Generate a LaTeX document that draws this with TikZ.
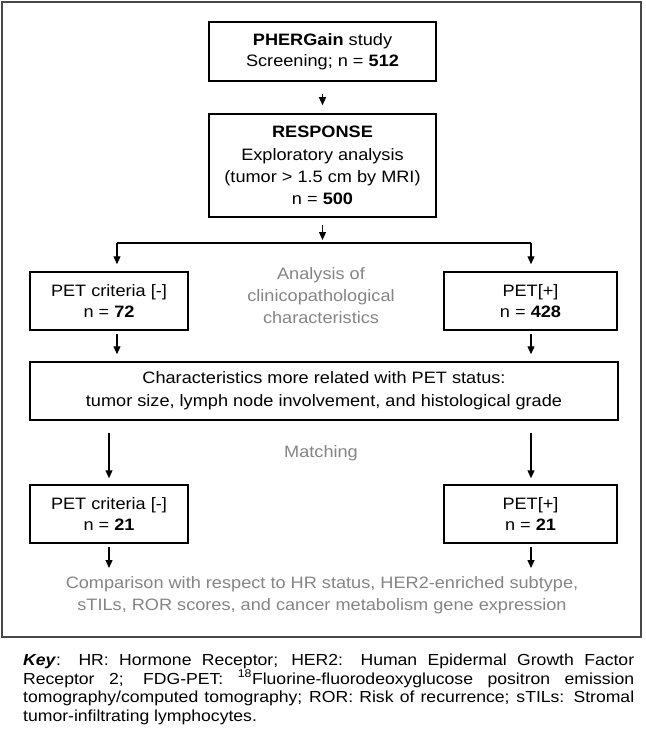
\documentclass[tikz,border=0pt]{standalone}
\usepackage{fontspec}
\setmainfont[FakeStretch=1.1]{Liberation Sans}
\usetikzlibrary{arrows.meta}
\begin{document}
\begin{tikzpicture}[x=1pt,y=-1pt,
  box/.style={draw=black, line width=1.5pt, align=center, inner sep=0pt, anchor=center,
    font=\fontsize{16.5}{21}\selectfont},
  gtext/.style={text=black!48, align=center, inner sep=0pt, anchor=center,
    font=\fontsize{16.5}{22}\selectfont},
  arr/.style={line width=1.2pt, -{Triangle[length=8pt,width=7pt]}},
  plain/.style={line width=1.2pt}
]
\useasboundingbox (0,0) rectangle (645,735);
\fill[white] (0,0) rectangle (645,735);
\draw[line width=2pt, draw=black!72] (2,2) rectangle (641,637);

% boxes
\node[box, minimum width=227pt, minimum height=59pt] (b1) at (322.5,51.5)
  {\textbf{PHERGain} study\\Screening; n = \textbf{512}};
\node[box, minimum width=227pt, minimum height=103pt, font=\fontsize{16.5}{22.3}\selectfont] (b2) at (322.5,165.5)
  {\textbf{RESPONSE}\\Exploratory analysis\\(tumor > 1.5 cm by MRI)\\n = \textbf{500}};
\node[box, minimum width=158pt, minimum height=58pt] (l1) at (109,301)
  {PET criteria [-]\\n = \textbf{72}};
\node[box, minimum width=173pt, minimum height=58pt] (r1) at (530.5,301)
  {PET[+]\\n = \textbf{428}};
\node[box, minimum width=588pt, minimum height=58pt, font=\fontsize{16.5}{23}\selectfont] (ch) at (324,391)
  {Characteristics more related with PET status:\\tumor size, lymph node involvement, and histological grade};
\node[box, minimum width=158pt, minimum height=58pt] (l2) at (109,514)
  {PET criteria [-]\\n = \textbf{21}};
\node[box, minimum width=173pt, minimum height=58pt] (r2) at (530.5,514)
  {PET[+]\\n = \textbf{21}};

% gray labels
\node[gtext] (ana) at (321,296) {Analysis of\\clinicopathological\\characteristics};
\node[gtext] (mat) at (321,453) {Matching};
\node[gtext] (cmp) at (322,595) {Comparison with respect to HR status, HER2-enriched subtype,\\sTILs, ROR scores, and cancer metabolism gene expression};

% coordinates
\coordinate (split) at (322.5,243);
\coordinate (sl) at (117,243);
\coordinate (sr) at (531,243);
\coordinate (el) at (109,568);
\coordinate (er) at (531,568);

% connectors
\draw[arr, shorten <=12pt, shorten >=8pt] (b1) -- (b2);
\draw[arr, shorten <=7pt, shorten >=3pt] (b2.south) -- (split);
\draw[plain] (sl) -- (sr);
\draw[arr, shorten >=7pt] (sl) -- (sl |- l1.north);
\draw[arr, shorten >=7pt] (sr) -- (sr |- r1.north);
\draw[arr, shorten <=3pt, shorten >=7pt] (sl |- l1.south) -- (sl |- ch.north);
\draw[arr, shorten <=3pt, shorten >=7pt] (sr |- r1.south) -- (sr |- ch.north);
\draw[arr, shorten <=12pt, shorten >=6pt] (l2.center |- ch.south) -- (l2.north);
\draw[arr, shorten <=12pt, shorten >=6pt] (er |- ch.south) -- (er |- r2.north);
\draw[arr, shorten <=3pt] (l2.south) -- (el);
\draw[arr, shorten <=3pt] (er |- r2.south) -- (er);

% key
\node[anchor=north west, inner sep=0pt, font=\fontsize{16}{18.4}\selectfont] (key) at (23,654)
  {\parbox{611pt}{\textbf{\textit{Key}}: HR: Hormone Receptor; HER2: Human Epidermal Growth Factor\linebreak
  Receptor 2; FDG-PET: \textsuperscript{18}Fluorine-fluorodeoxyglucose positron emission\linebreak
  tomography/computed tomography; ROR: Risk of recurrence; sTILs: Stromal\linebreak
  tumor-infiltrating lymphocytes.}};
\end{tikzpicture}
\end{document}
